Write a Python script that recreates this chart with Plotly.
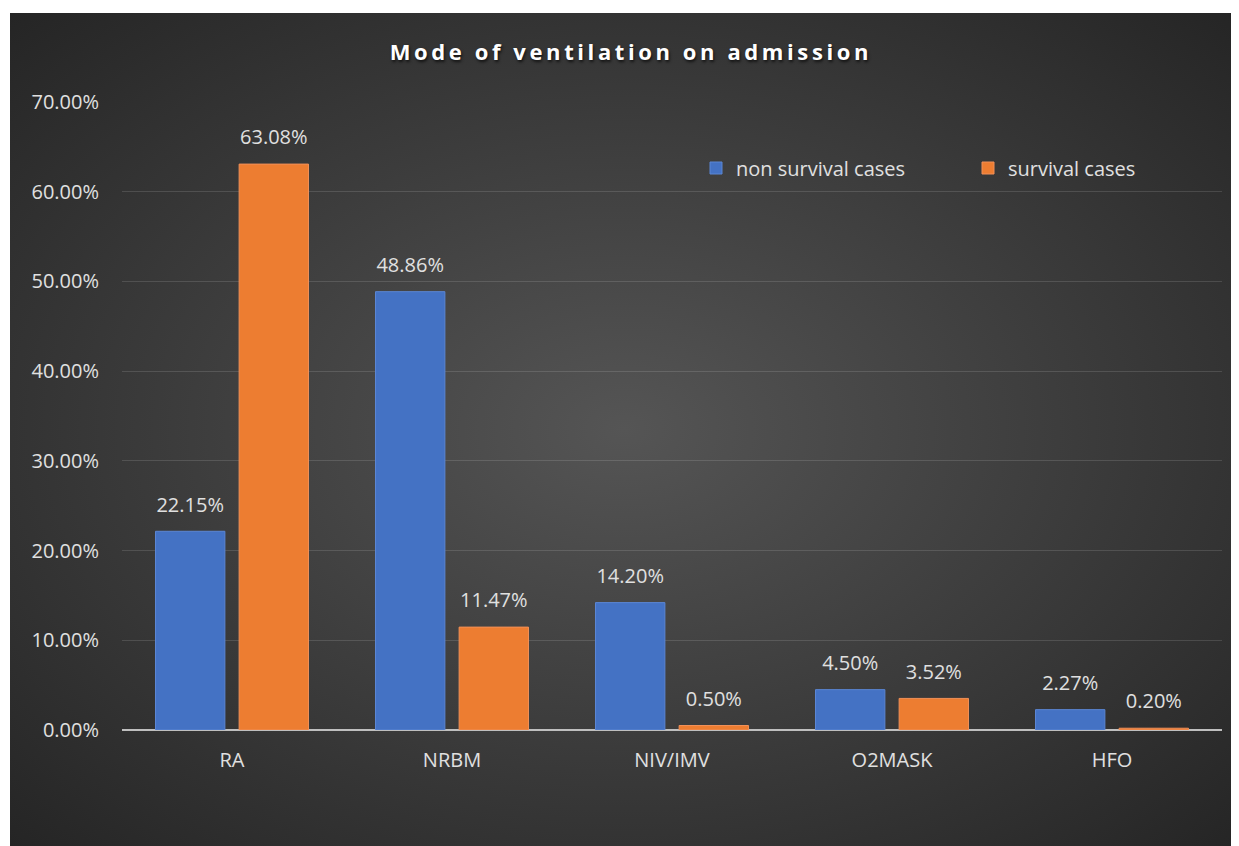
import base64
import plotly.graph_objects as go

categories = ["RA", "NRBM", "NIV/IMV", "O2MASK", "HFO"]
non_survival = [22.15, 48.86, 14.20, 4.50, 2.27]
survival = [63.08, 11.47, 0.50, 3.52, 0.20]
y_ticks = [0, 10, 20, 30, 40, 50, 60, 70]
series_names = ["non survival cases", "survival cases"]

W, H = 1231, 838
L, R, T, B = 114, 17, 94, 116
PW, PH = W - L - R, H - T - B

FONT = "Open Sans"
TXT = "#e0e0e0"

svg = (
    '<svg xmlns="http://www.w3.org/2000/svg" width="1000" height="700" preserveAspectRatio="none">'
    '<defs><radialGradient id="g" cx="50%" cy="50%" r="72%">'
    '<stop offset="0%" stop-color="#555555"/><stop offset="100%" stop-color="#242424"/>'
    '</radialGradient></defs><rect width="1000" height="700" fill="url(#g)"/></svg>'
)
bg_src = "data:image/svg+xml;base64," + base64.b64encode(svg.encode()).decode()

fig = go.Figure()
fig.add_trace(go.Bar(
    x=categories, y=non_survival, name=series_names[0], offsetgroup="a",
    marker=dict(color="#4472C4", line=dict(color="#5b86d4", width=1)),
    legend="legend", hoverinfo="x+y",
))
fig.add_trace(go.Bar(
    x=categories, y=survival, name=series_names[1], offsetgroup="b",
    marker=dict(color="#ED7D31", line=dict(color="#f19058", width=1)),
    legend="legend2", hoverinfo="x+y",
))
# data labels
for vals, grp in ((non_survival, "a"), (survival, "b")):
    fig.add_trace(go.Scatter(
        x=categories, y=vals, offsetgroup=grp, mode="markers+text",
        marker=dict(size=22, opacity=0), texttemplate="%{y:.2f}%",
        textposition="top center", textfont=dict(family=FONT, size=20, color=TXT),
        cliponaxis=False, showlegend=False, hoverinfo="skip",
    ))

# dark chart-area background
x0 = (2 - L) / PW
x1 = (W - L) / PW
y0 = (H - B - 5) / PH
y1 = (H - B - H) / PH
fig.add_layout_image(dict(
    source=bg_src, xref="paper", yref="paper", x=x0, y=y0,
    sizex=x1 - x0, sizey=y0 - y1, xanchor="left", yanchor="top",
    sizing="stretch", layer="below",
))

leg_common = dict(
    orientation="h", xanchor="left", yanchor="middle", bgcolor="rgba(0,0,0,0)",
    font=dict(family=FONT, size=20, color=TXT), itemwidth=30,
    y=(H - B - 160) / PH,
)

fig.update_layout(
    width=W, height=H,
    margin=dict(l=L, r=R, t=T, b=B, pad=0, autoexpand=False),
    paper_bgcolor="white", plot_bgcolor="rgba(0,0,0,0)",
    barmode="group", bargap=0.24, bargroupgap=0.17,
    scattermode="group", scattergap=0.24,
    font=dict(family=FONT, color=TXT),
    title=dict(
        text="<b>Mode of ventilation on admission</b>",
        x=0.506, xref="container", xanchor="center",
        y=1 - 44 / H, yref="container", yanchor="middle",
        font=dict(family=FONT, size=22, color="#ffffff",
                  shadow="1px 2px 3px rgba(0,0,0,0.7)"),
    ),
    legend=dict(x=(688 - L) / PW, **leg_common),
    legend2=dict(x=(960 - L) / PW, **leg_common),
    xaxis=dict(
        showgrid=False, showline=False, ticks="",
        tickfont=dict(family=FONT, size=20, color=TXT),
        ticklabelstandoff=16,
    ),
    yaxis=dict(
        range=[0, 70], tickvals=y_ticks,
        ticktext=[f"{v:.2f}%" for v in y_ticks],
        showgrid=True, gridcolor="rgba(255,255,255,0.13)", gridwidth=1,
        zeroline=True, zerolinecolor="#bfbfbf", zerolinewidth=2,
        showline=False, ticks="",
        tickfont=dict(family=FONT, size=20, color=TXT),
        ticklabelstandoff=22,
    ),
)

post = (
    "var s=function(){document.querySelectorAll('.gtitle').forEach(function(e){"
    "e.style.letterSpacing='3.6px';});};s();"
    "var gd=document.getElementsByClassName('plotly-graph-div')[0];"
    "if(gd&&gd.on){gd.on('plotly_afterplot',s);}"
)
fig.write_html("out.html", post_script=post)
